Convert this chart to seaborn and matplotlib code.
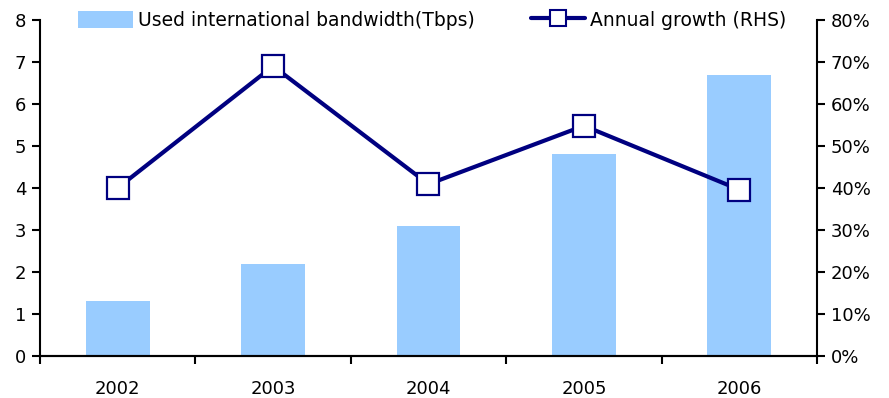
import matplotlib
matplotlib.use("Agg")
import matplotlib.pyplot as plt
import matplotlib.ticker as mticker
from matplotlib.lines import Line2D
from matplotlib.patches import Patch
import numpy as np
import pandas as pd
import seaborn as sns

years = ["2002", "2003", "2004", "2005", "2006"]
bandwidth_tbps = [1.3, 2.2, 3.1, 4.8, 6.7]
annual_growth = [0.40, 0.69, 0.409, 0.548, 0.396]

bar_label = "Used international bandwidth(Tbps)"
line_label = "Annual growth (RHS)"

df = pd.DataFrame({"year": years, "bandwidth": bandwidth_tbps, "growth": annual_growth})

sns.set_theme(style="white")
plt.rcParams["font.family"] = ["DejaVu Sans"]

bar_color = "#99CCFF"
navy = "#000080"

fig = plt.figure(figsize=(8.89, 3.98), dpi=100)
ax = fig.add_axes([0.045, 0.1055, 0.874, 0.8445])

sns.barplot(data=df, x="year", y="bandwidth", color=bar_color, width=0.41,
            saturation=1, linewidth=0, edgecolor="none", ax=ax, zorder=1)

ax2 = ax.twinx()
sns.lineplot(data=df, x="year", y="growth", ax=ax2, color=navy, linewidth=3,
             marker="s", markersize=16, markerfacecolor="white",
             markeredgecolor=navy, markeredgewidth=1.6, sort=False)

ax.set_xlim(-0.5, len(years) - 0.5)
ax.set_ylim(0, 8)
ax2.set_ylim(0, 0.8)
ax.set_yticks(np.arange(0, 9, 1))
ax2.set_yticks(np.arange(0, 0.81, 0.1))
ax2.yaxis.set_major_formatter(mticker.PercentFormatter(1.0, decimals=0))

ax.set_xlabel("")
ax.set_ylabel("")
ax2.set_xlabel("")
ax2.set_ylabel("")

for a in (ax, ax2):
    for side in ("left", "right", "bottom"):
        a.spines[side].set_visible(True)
        a.spines[side].set_color("black")
        a.spines[side].set_linewidth(1.5)
    a.spines["top"].set_visible(False)

ax.spines["right"].set_visible(False)
ax2.spines["left"].set_visible(False)

# category boundaries carry the x ticks, labels sit at category centres
ax.set_xticks(np.arange(-0.5, len(years), 1), minor=True)
ax.tick_params(axis="x", which="minor", direction="out", length=6, width=1.5,
               color="black", bottom=True)
ax.tick_params(axis="x", which="major", length=0, pad=17, labelsize=13,
               labelcolor="black")
ax.tick_params(axis="y", direction="out", length=6, width=1.5, color="black",
               left=True, labelsize=13, labelcolor="black", pad=4)
ax2.tick_params(axis="y", direction="out", length=6, width=1.5, color="black",
                right=True, labelsize=13, labelcolor="black", pad=4)

handles = [
    Patch(facecolor=bar_color, edgecolor="none"),
    Line2D([0], [0], color=navy, linewidth=3, marker="s", markersize=11,
           markerfacecolor="white", markeredgecolor=navy, markeredgewidth=1.5),
]
if ax2.get_legend() is not None:
    ax2.get_legend().remove()
leg = ax2.legend(handles, [bar_label, line_label], loc="upper center",
                 bbox_to_anchor=(0.505, 1.05), ncol=2, frameon=False,
                 fontsize=13.5, handlelength=2.9, handleheight=1.0,
                 handletextpad=0.27, columnspacing=3.0, borderaxespad=0)
for t in leg.get_texts():
    t.set_color("black")

fig.savefig("out.png", dpi=100)
